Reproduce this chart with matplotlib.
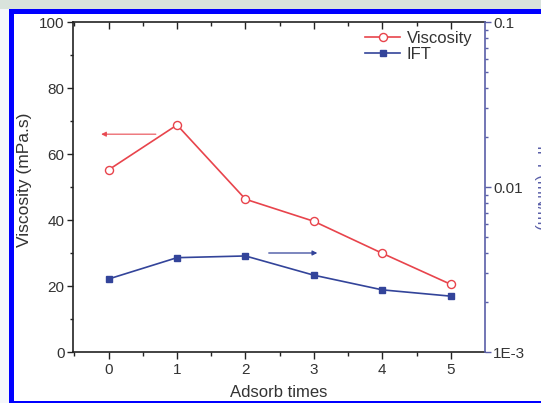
import matplotlib
matplotlib.use("Agg")
import matplotlib.pyplot as plt
from matplotlib.patches import Rectangle
from matplotlib.ticker import FixedLocator, LogLocator, NullFormatter, FixedFormatter

plt.rcParams['font.family'] = ['Liberation Sans', 'DejaVu Sans']

adsorb_times = [0, 1, 2, 3, 4, 5]
viscosity = [55.2, 68.8, 46.3, 39.6, 29.9, 20.5]
ift = [0.00277, 0.00373, 0.00382, 0.00292, 0.00238, 0.00218]
x_ticks = [0, 1, 2, 3, 4, 5]
left_ticks = [0, 20, 40, 60, 80, 100]
right_ticks = [1e-3, 1e-2, 1e-1]
right_ticklabels = ["1E-3", "0.01", "0.1"]

W, H = 541, 403
fig = plt.figure(figsize=(W / 100, H / 100), dpi=100)
fig.patch.set_facecolor('#f5f7fb')

def px_rect(x0, y0, x1, y1, color):
    fig.patches.append(Rectangle((x0 / W, 1 - y1 / H), (x1 - x0) / W, (y1 - y0) / H,
                                 transform=fig.transFigure, color=color, zorder=-10, lw=0))

px_rect(0, 0, W, 8.5, '#d9e3dc')
px_rect(8.5, 8.5, W, 14, '#0000ff')
px_rect(8.5, 8.5, 14, H, '#0000ff')
px_rect(14, 14, W, 400.5, '#ffffff')
px_rect(8.5, 400.5, W, H, '#0000ff')

ax_l, ax_r, ax_t, ax_b = 73, 485, 22, 352
ax = fig.add_axes([ax_l / W, 1 - ax_b / H, (ax_r - ax_l) / W, (ax_b - ax_t) / H])
ax.set_facecolor('none')
ax2 = ax.twinx()

red = '#e8444c'
blue = '#33449a'
axis_blue = '#5a5fa8'
txt = '#333333'
fs_tick = 11
fs_lab = 12

ax.plot(adsorb_times, viscosity, color=red, lw=1.2, marker='o', ms=5.8,
        mfc='white', mec=red, mew=1.0, label='Viscosity', zorder=3)
ax2.plot(adsorb_times, ift, color=blue, lw=1.2, marker='s', ms=5,
         mfc=blue, mec=blue, label='IFT', zorder=3)

ax.set_xlim(-0.52, 5.5)
ax.set_ylim(0, 100)
ax2.set_yscale('log')
ax2.set_ylim(1e-3, 1e-1)

ax.xaxis.set_major_locator(FixedLocator(x_ticks))
ax.xaxis.set_minor_locator(FixedLocator([-0.5, 0.5, 1.5, 2.5, 3.5, 4.5]))
ax.yaxis.set_major_locator(FixedLocator(left_ticks))
ax.yaxis.set_minor_locator(FixedLocator([10, 30, 50, 70, 90]))
ax.tick_params(axis='x', which='both', direction='out', top=True, labeltop=False,
               colors='#222222', labelcolor=txt, labelsize=fs_tick, pad=3)
ax.tick_params(axis='x', which='major', length=5, width=1)
ax.tick_params(axis='x', which='minor', length=3, width=1)
ax.tick_params(axis='y', which='major', direction='out', length=4, width=1,
               colors='#222222', labelcolor=txt, labelsize=fs_tick, pad=2)
ax.tick_params(axis='y', which='minor', direction='out', length=2.5, width=1, colors='#222222')
for t in ax.xaxis.get_major_ticks() + ax.xaxis.get_minor_ticks():
    t.tick2line.set_marker(3)  # top ticks point inward
ax.tick_params(axis='y', which='both', right=False)

ax2.yaxis.set_major_locator(FixedLocator(right_ticks))
ax2.yaxis.set_major_formatter(FixedFormatter(right_ticklabels))
ax2.yaxis.set_minor_locator(LogLocator(base=10, subs=range(2, 10)))
ax2.yaxis.set_minor_formatter(NullFormatter())
ax2.tick_params(axis='y', which='major', direction='out', length=4, width=1,
                colors=axis_blue, labelcolor=txt, labelsize=fs_tick, pad=2)
ax2.tick_params(axis='y', which='minor', direction='out', length=2.5, width=1, colors=axis_blue)

for s in ['left', 'bottom', 'top']:
    ax.spines[s].set_color('#222222')
    ax.spines[s].set_linewidth(1.2)
ax2.spines['right'].set_color(axis_blue)
ax2.spines['right'].set_linewidth(1.2)
for s in ['left', 'bottom', 'top']:
    ax2.spines[s].set_visible(False)
ax.spines['right'].set_visible(False)

ax.set_xlabel('Adsorb times', fontsize=fs_lab, color=txt)
ax.xaxis.set_label_coords(0.5, (352 - 385) / 330)
ax.set_ylabel('Viscosity (mPa.s)', fontsize=12.5, color=txt)
ax.yaxis.set_label_coords((32 - 73) / 412, (352 - 180) / 330)
fig.text(534 / W, 1 - 187 / H, 'IFT (mN/m)', rotation=-90, ha='left', va='center',
         fontsize=fs_lab, color=axis_blue)

ax.annotate('', xy=(-0.11, 66), xytext=(0.69, 66),
            arrowprops=dict(arrowstyle='-|>', color=red, lw=0.9, alpha=0.85,
                            mutation_scale=7, shrinkA=0, shrinkB=0))
ax.annotate('', xy=(3.05, 30), xytext=(2.34, 30),
            arrowprops=dict(arrowstyle='-|>', color=blue, lw=0.9,
                            mutation_scale=7, shrinkA=0, shrinkB=0))

h1, l1 = ax.get_legend_handles_labels()
h2, l2 = ax2.get_legend_handles_labels()
leg = ax.legend(h1 + h2, l1 + l2, loc='upper left',
                bbox_to_anchor=(365 / W, 1 - 31 / H), bbox_transform=fig.transFigure,
                frameon=False, fontsize=fs_lab, handlelength=2.1, handletextpad=0.4,
                labelspacing=0.05, borderaxespad=0, borderpad=0)
for t in leg.get_texts():
    t.set_color(txt)

fig.savefig('out.png', dpi=100)
